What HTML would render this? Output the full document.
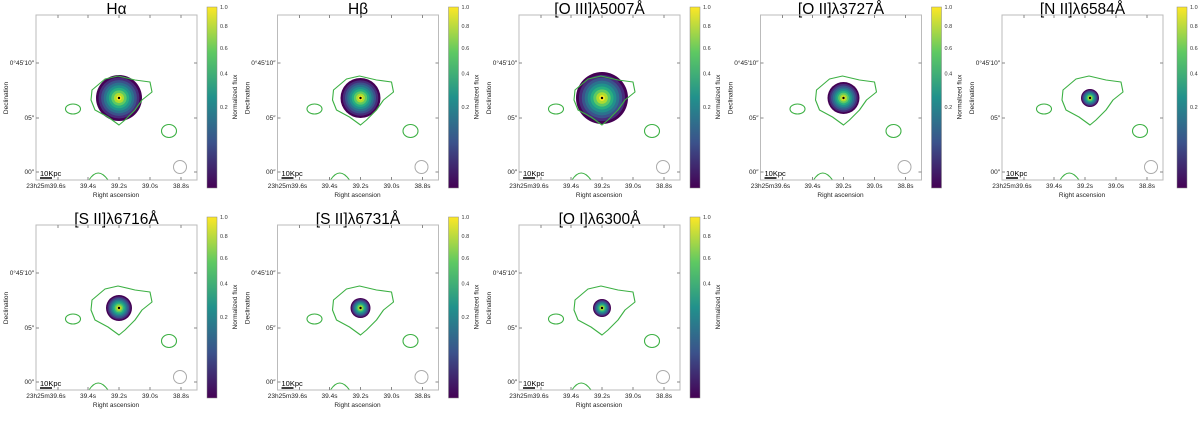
<!DOCTYPE html>
<html><head><meta charset="utf-8"><style>
body{margin:0;background:#fff;width:1200px;height:416px;overflow:hidden;font-family:"Liberation Sans",sans-serif}
</style></head><body>
<svg id="fig" width="1200" height="416" xmlns="http://www.w3.org/2000/svg">
<defs>
<linearGradient id="vir" x1="0" y1="1" x2="0" y2="0">
<stop offset="0" stop-color="#440154"/><stop offset="0.25" stop-color="#3b528b"/><stop offset="0.5" stop-color="#21918c"/><stop offset="0.75" stop-color="#5ec962"/><stop offset="1" stop-color="#fde725"/>
</linearGradient>
</defs>
</svg>
<script>
const titles=["Hα","Hβ","[O III]λ5007Å","[O II]λ3727Å","[N II]λ6584Å","[S II]λ6716Å","[S II]λ6731Å","[O I]λ6300Å"];
const radii=[23,20,26,16,9,13,10,9];
const cbTicks=[[1.0,0.8,0.6,0.4,0.2],[1.0,0.8,0.6,0.4,0.2],[1.0,0.8,0.6,0.4,0.2],[1.0,0.8,0.6,0.4,0.2],[1.0,0.8,0.6,0.4,0.2],[1.0,0.8,0.6,0.4,0.2],[1.0,0.8,0.6,0.4,0.2],[1.0,0.8,0.6,0.4]];
const xTickLabels=["23h25m39.6s","39.4s","39.2s","39.0s","38.8s"];
const yTickLabels=["0°45′10″","05″","00″"];
const NS="http://www.w3.org/2000/svg";
const fig=document.getElementById('fig');
function mk(t,a,p){const e=document.createElementNS(NS,t);for(const k in a)e.setAttribute(k,a[k]);(p||fig).appendChild(e);return e;}
const vir=["#440154","#472c7a","#3b528b","#2c728e","#21918c","#28ae80","#5ec962","#addc30","#fde725"];
const contour=[[-27,-8],[-14,-19],[-1,-22],[16,-18],[31,-16],[33,-6],[23,2],[16,12],[6,22],[0,27],[-11,19],[-24,12],[-28,2]];
titles.forEach((t,i)=>{
  const row=Math.floor(i/5),col=i%5;
  const ox=241.5*col,oy=210*row;
  const g=mk('g',{transform:`translate(${ox},${oy})`});
  
  
  const ax={l:36,t:15,r:197,b:180};
  const title=mk('text',{x:(ax.l+ax.r)/2,y:14,'text-anchor':'middle','font-size':15.5,fill:'#000'},g);title.textContent=t;
  
  
  const cx=119+(col===4?5:0),cy=98;
  const R=radii[i];
  for(let k=0;k<vir.length;k++){
    const r=R*(1-k/vir.length);
    const c=mk('circle',{cx:cx,cy:cy,r:r,fill:vir[k]},g);
    
    
  }
  mk('circle',{cx:cx,cy:cy,r:1.2,fill:'#000'},g);
  const pts=contour.map(p=>(cx+p[0])+','+(cy+p[1])).join(' ');
  const cp=mk('polygon',{points:pts,fill:'none',stroke:'#3cb043','stroke-width':1.1,'stroke-linejoin':'round'},g);
  
  
  mk('ellipse',{cx:cx-46,cy:cy+11,rx:7.5,ry:5,fill:'none',stroke:'#3cb043','stroke-width':1.1},g);
  mk('ellipse',{cx:cx+50,cy:cy+33,rx:7.5,ry:6.5,fill:'none',stroke:'#3cb043','stroke-width':1.1},g);
  mk('path',{d:`M${cx-30},${ax.b} Q${cx-21},${ax.b-14} ${cx-11},${ax.b}`,fill:'none',stroke:'#3cb043','stroke-width':1.1},g);
  mk('circle',{cx:180+(col===4?5:0),cy:167,r:6.5,fill:'none',stroke:'#aaa','stroke-width':1},g);
  const box=mk('rect',{x:ax.l,y:ax.t,width:ax.r-ax.l,height:ax.b-ax.t,fill:'none',stroke:'#bbb','stroke-width':1},g);
  
  
  mk('line',{x1:40,y1:178,x2:52,y2:178,stroke:'#000','stroke-width':1.5},g);
  const sb=mk('text',{x:40,y:176,'font-size':7.5},g);sb.textContent='10Kpc';
  const xt=[58,88,119,150,181];
  xTickLabels.forEach((l,k)=>{
    mk('line',{x1:xt[k],y1:ax.b,x2:xt[k],y2:ax.b-3,stroke:'#888'},g);
    mk('line',{x1:xt[k],y1:ax.t,x2:xt[k],y2:ax.t+3,stroke:'#888'},g);
    const tx=mk('text',{x:xt[k]+(k===0?-12:0),y:188,'text-anchor':'middle','font-size':6.5,fill:'#222'},g);tx.textContent=l;
  });
  const yl=mk('text',{x:116,y:197,'text-anchor':'middle','font-size':6.5,fill:'#222'},g);yl.textContent='Right ascension';
  
  
  const yt=[63,118,172];
  yTickLabels.forEach((l,k)=>{
    mk('line',{x1:ax.l,y1:yt[k],x2:ax.l+3,y2:yt[k],stroke:'#888'},g);
    mk('line',{x1:ax.r,y1:yt[k],x2:ax.r-3,y2:yt[k],stroke:'#888'},g);
    const tx=mk('text',{x:ax.l-2,y:yt[k]+2,'text-anchor':'end','font-size':6.5,fill:'#222'},g);tx.textContent=l;
  });
  const ya=mk('text',{x:8,y:98,'text-anchor':'middle','font-size':6.5,fill:'#222',transform:'rotate(-90 8 98)'},g);ya.textContent='Declination';
  
  
  const cbx=207+(col===4?4:0);
  const cb=mk('rect',{x:cbx,y:7,width:10,height:181,fill:'url(#vir)',stroke:'#888','stroke-width':0.5},g);
  
  
  cbTicks[i].forEach(v=>{
    const y=188-181*Math.pow(v,0.5);
    const tt=mk('text',{x:cbx+13,y:y+2,'font-size':5.5,fill:'#333'},g);tt.textContent=v.toFixed(1);
  });
  const cl=mk('text',{x:cbx+30,y:97,'text-anchor':'middle','font-size':6.5,fill:'#222',transform:`rotate(-90 ${cbx+30} 97)`},g);cl.textContent='Normalized flux';
});
</script>
</body></html>
